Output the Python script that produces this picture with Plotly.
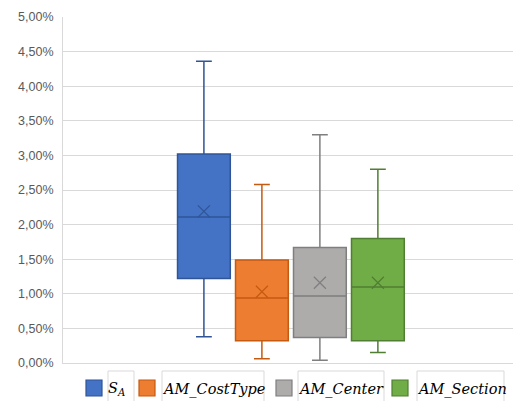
import plotly.graph_objects as go

# ---- data (values as fractions) ----
series = ["S_A", "AM_CostType", "AM_Center", "AM_Section"]
labels = ["<i>S<sub>A</sub></i>", "<i>AM_CostType</i>", "<i>AM_Center</i>", "<i>AM_Section</i>"]
lower = [0.0038, 0.0006, 0.0004, 0.0015]
q1 = [0.0122, 0.0032, 0.0037, 0.0032]
median = [0.0211, 0.0094, 0.0097, 0.0110]
q3 = [0.0302, 0.0149, 0.0167, 0.0180]
upper = [0.0436, 0.0258, 0.0330, 0.0280]
mean = [0.0219, 0.0103, 0.0116, 0.0116]

fills = ["#4472C4", "#ED7D31", "#AEABAB", "#70AD47"]
lines = ["#2F5597", "#C55A11", "#7F7F7F", "#507E32"]

W, H = 513, 401
ML, MR, MT, MB = 63, 0, 17, 38
PW, PH = W - ML - MR, H - MT - MB


def px(x):
    return (x - ML) / PW


def py(y):
    return (H - MB - y) / PH


fig = go.Figure()
for i, s in enumerate(series):
    fig.add_trace(go.Box(
        x=[s], name=labels[i],
        q1=[q1[i]], median=[median[i]], q3=[q3[i]],
        lowerfence=[lower[i]], upperfence=[upper[i]],
        fillcolor=fills[i], line=dict(color=lines[i], width=1.5),
        width=0.91, whiskerwidth=0.3, boxpoints=False, hoverinfo="skip",
        showlegend=False,
    ))
for i, s in enumerate(series):
    fig.add_trace(go.Scatter(
        x=[s], y=[mean[i]], mode="markers", showlegend=False, hoverinfo="skip",
        marker=dict(symbol="x-thin-open", size=12, color=lines[i],
                    line=dict(color=lines[i], width=1.2)),
    ))

# manual legend (Excel-style with framed labels)
sq_left = [86, 139, 276, 392]
frame_l = [108, 162, 298, 417]
frame_r = [134, 264, 384, 504]
shapes = []
annotations = []
for i in range(len(series)):
    shapes.append(dict(type="rect", xref="paper", yref="paper",
                       x0=px(frame_l[i]), x1=px(frame_r[i]), y0=py(403), y1=py(371),
                       line=dict(color="#D9D9D9", width=1), fillcolor="rgba(0,0,0,0)"))
    shapes.append(dict(type="rect", xref="paper", yref="paper",
                       x0=px(sq_left[i]), x1=px(sq_left[i] + 16), y0=py(396), y1=py(380),
                       line=dict(color=lines[i], width=1.2), fillcolor=fills[i]))
    annotations.append(dict(xref="paper", yref="paper", x=px(frame_l[i]), y=py(389),
                            xanchor="left", yanchor="middle", showarrow=False,
                            xshift=-2, text=labels[i],
                            font=dict(family="DejaVu Serif", size=14.5, color="#000000")))

fig.update_layout(
    width=W, height=H,
    margin=dict(l=ML, r=MR, t=MT, b=MB),
    paper_bgcolor="white", plot_bgcolor="white",
    separators=", ",
    showlegend=False,
    shapes=shapes, annotations=annotations,
    xaxis=dict(type="category", categoryorder="array", categoryarray=series,
               range=[-2.43, 5.33], showticklabels=False,
               showgrid=False, showline=True, linecolor="#D9D9D9", linewidth=1,
               zeroline=False),
    yaxis=dict(range=[0, 0.05], dtick=0.005, tickformat=".2%",
               showgrid=True, gridcolor="#D9D9D9", gridwidth=1,
               showline=True, linecolor="#D9D9D9", linewidth=1, zeroline=False,
               ticks="", ticklabelstandoff=6,
               tickfont=dict(family="Liberation Sans", size=12.5, color="#595959")),
)

fig.write_html("out.html", config={"displayModeBar": False},
               post_script="document.body.style.margin='0';document.body.style.overflow='hidden';")
